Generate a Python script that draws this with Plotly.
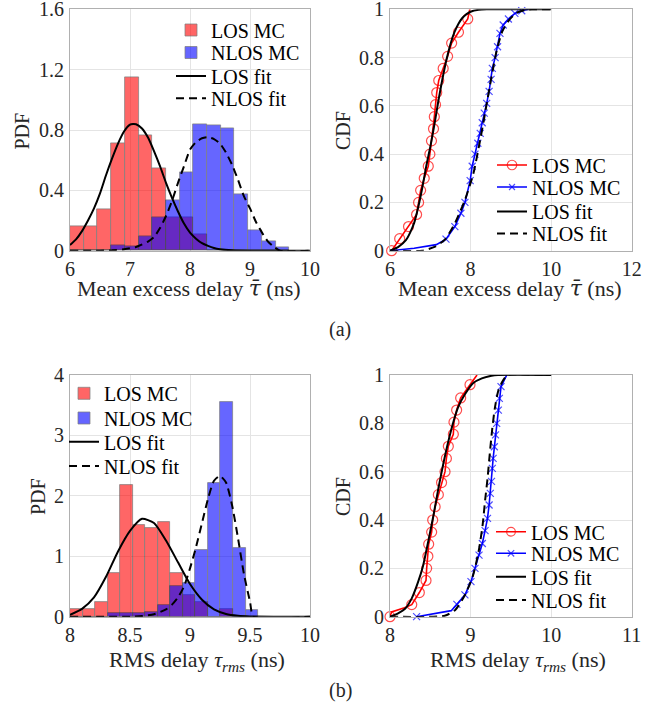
import numpy as np
import plotly.graph_objects as go

# ---------------- (a) Mean excess delay ----------------
a_bin_edges = [6.0, 6.228, 6.457, 6.685, 6.913, 7.142, 7.37, 7.598, 7.826, 8.055,
               8.283, 8.511, 8.74, 8.968, 9.196, 9.425, 9.653]
a_los_pdf = [0.163, 0.163, 0.274, 0.711, 1.149, 0.767, 0.547, 0.221, 0.221, 0.11,
             0, 0, 0, 0, 0, 0]
a_nlos_pdf = [0, 0, 0, 0.035, 0.027, 0.097, 0.221, 0.336, 0.517, 0.838,
              0.831, 0.811, 0.376, 0.137, 0.06, 0.02]

a_los_fit_x = [6.0, 6.1, 6.2, 6.3, 6.4, 6.5, 6.6, 6.7, 6.8, 6.9, 7.0, 7.05, 7.1, 7.2, 7.3,
               7.4, 7.5, 7.6, 7.7, 7.8, 7.9, 8.0, 8.1, 8.2, 8.3, 8.4, 8.5, 8.7, 9.0, 10.0]
a_los_fit_pdf = [0.038, 0.075, 0.13, 0.2, 0.28, 0.38, 0.5, 0.61, 0.71, 0.79, 0.835, 0.84, 0.838,
                 0.81, 0.75, 0.66, 0.56, 0.45, 0.35, 0.26, 0.18, 0.12, 0.08, 0.05, 0.032,
                 0.018, 0.01, 0.003, 0.0, 0.0]
a_nlos_fit_x = [6.0, 6.5, 6.7, 6.9, 7.1, 7.3, 7.4, 7.5, 7.6, 7.7, 7.8, 7.9, 8.0, 8.1, 8.2,
                8.3, 8.4, 8.5, 8.6, 8.7, 8.8, 8.9, 9.0, 9.1, 9.2, 9.3, 9.4, 9.5, 10.0]
a_nlos_fit_pdf = [0.0, 0.0, 0.003, 0.01, 0.025, 0.06, 0.09, 0.15, 0.23, 0.33, 0.45, 0.56, 0.67,
                  0.72, 0.745, 0.752, 0.74, 0.71, 0.65, 0.57, 0.47, 0.36, 0.28, 0.19, 0.12,
                  0.06, 0.025, 0.0, 0.0]

a_los_mc_x = [6.04, 6.24, 6.46, 6.66, 6.71, 6.76, 6.85, 6.95, 6.99, 7.03, 7.08, 7.1, 7.13,
              7.16, 7.21, 7.32, 7.43, 7.53, 7.7, 7.93, 7.98]
a_los_mc_cdf = [0.0, 0.05, 0.1, 0.15, 0.2, 0.25, 0.3, 0.35, 0.4, 0.455, 0.505, 0.555, 0.605,
                0.655, 0.705, 0.755, 0.805, 0.86, 0.905, 0.96, 1.0]
a_nlos_mc_x = [6.0, 6.6, 7.15, 7.39, 7.61, 7.76, 7.86, 7.99, 8.04, 8.11, 8.18, 8.24, 8.29,
               8.34, 8.40, 8.46, 8.51, 8.54, 8.61, 8.67, 8.73, 8.81, 8.94, 9.10, 9.27, 9.44]
a_nlos_mc_cdf = [0.0, 0.01, 0.025, 0.048, 0.10, 0.155, 0.20, 0.29, 0.35, 0.40, 0.445, 0.486,
                 0.53, 0.57, 0.61, 0.66, 0.71, 0.755, 0.80, 0.845, 0.90, 0.935, 0.96, 0.983,
                 0.994, 1.0]
a_los_fit_cdf_x = [6.0, 6.2, 6.4, 6.5, 6.6, 6.7, 6.8, 6.9, 7.0, 7.1, 7.2, 7.3, 7.4, 7.5, 7.6,
                   7.7, 7.8, 7.9, 8.0, 8.2, 8.4, 10.0]
a_los_fit_cdf = [0.0, 0.015, 0.045, 0.075, 0.115, 0.18, 0.26, 0.35, 0.43, 0.52, 0.62, 0.71,
                 0.79, 0.855, 0.905, 0.94, 0.965, 0.98, 0.99, 0.998, 1.0, 1.0]
a_nlos_fit_cdf_x = [6.0, 6.8, 7.12, 7.37, 7.61, 7.86, 8.07, 8.24, 8.36, 8.52, 8.65, 8.79,
                    8.96, 9.15, 9.35, 9.52, 10.0]
a_nlos_fit_cdf = [0.0, 0.0, 0.017, 0.047, 0.113, 0.21, 0.32, 0.46, 0.57, 0.72, 0.83, 0.91,
                  0.956, 0.986, 0.997, 1.0, 1.0]

# ---------------- (b) RMS delay ----------------
b_bin_edges = [8.0, 8.105, 8.209, 8.314, 8.418, 8.523, 8.627, 8.732, 8.836, 8.941, 9.045,
               9.15, 9.254, 9.359, 9.463, 9.568]
b_los_pdf = [0.121, 0.121, 0.243, 0.717, 2.18, 1.52, 1.46, 1.57, 0.717, 0.36, 0.25, 0, 0.12, 0, 0]
b_nlos_pdf = [0, 0, 0, 0.055, 0.055, 0.06, 0.08, 0.19, 0.5, 0.56, 1.10, 2.21, 3.56, 1.13, 0.11]

b_los_fit_x = [8.0, 8.1, 8.2, 8.3, 8.4, 8.5, 8.6, 8.7, 8.8, 8.9, 9.0, 9.1, 9.2, 9.3, 9.4,
               9.5, 9.7, 10.0]
b_los_fit_pdf = [0.03, 0.13, 0.32, 0.66, 1.08, 1.42, 1.62, 1.55, 1.26, 0.9, 0.54, 0.28, 0.12,
                 0.045, 0.015, 0.004, 0.0, 0.0]
b_nlos_fit_x = [8.0, 8.5, 8.6, 8.7, 8.8, 8.85, 8.9, 8.95, 9.0, 9.05, 9.1, 9.15, 9.2, 9.25,
                9.3, 9.35, 9.4, 9.45, 9.5, 9.53, 10.0]
b_nlos_fit_pdf = [0.0, 0.0, 0.01, 0.04, 0.12, 0.2, 0.32, 0.5, 0.8, 1.15, 1.55, 1.95, 2.25,
                  2.33, 2.22, 1.85, 1.3, 0.7, 0.25, 0.0, 0.0]

b_los_mc_x = [8.0, 8.02, 8.18, 8.27, 8.364, 8.447, 8.455, 8.47, 8.48, 8.517, 8.53, 8.56, 8.6,
              8.64, 8.683, 8.70, 8.724, 8.786, 8.794, 8.827, 8.877, 8.993, 9.08]
b_los_mc_cdf = [0.0, 0.02, 0.037, 0.05, 0.1, 0.15, 0.2, 0.25, 0.3, 0.35, 0.4, 0.455, 0.505,
                0.555, 0.6, 0.655, 0.705, 0.755, 0.805, 0.855, 0.905, 0.96, 1.0]
b_nlos_mc_x = [8.33, 8.76, 8.83, 8.93, 9.005, 9.055, 9.105, 9.146, 9.18, 9.21, 9.23, 9.245,
               9.26, 9.27, 9.28, 9.295, 9.31, 9.324, 9.345, 9.357, 9.378, 9.45]
b_nlos_mc_cdf = [0.0, 0.025, 0.051, 0.09, 0.145, 0.2, 0.255, 0.303, 0.356, 0.407, 0.462,
                 0.51, 0.56, 0.614, 0.655, 0.703, 0.752, 0.8, 0.855, 0.903, 0.952, 1.0]
b_los_fit_cdf_x = [8.0, 8.1, 8.19, 8.27, 8.35, 8.41, 8.48, 8.54, 8.6, 8.66, 8.72, 8.79, 8.85,
                   8.93, 9.03, 9.14, 9.26, 9.34, 10.0]
b_los_fit_cdf = [0.0, 0.014, 0.034, 0.076, 0.145, 0.21, 0.32, 0.42, 0.53, 0.63, 0.72, 0.81,
                 0.87, 0.92, 0.966, 0.986, 0.997, 1.0, 1.0]
b_nlos_fit_cdf_x = [8.0, 8.68, 8.81, 8.93, 9.03, 9.1, 9.15, 9.18, 9.21, 9.24, 9.27, 9.3, 9.34,
                    9.39, 9.43, 9.46, 10.0]
b_nlos_fit_cdf = [0.0, 0.004, 0.028, 0.09, 0.17, 0.27, 0.38, 0.48, 0.57, 0.68, 0.78, 0.86,
                  0.93, 0.97, 0.99, 1.0, 1.0]

# ---------------- figure ----------------
W, H = 656, 709
FONT = "Liberation Serif"
TXT = "#262626"
DASH = "8px,5px"


def px_x(p):
    return p / W


def px_y(p):
    return 1 - p / H


fig = go.Figure()
legends = {}
leg_count = [1]
leg_style = dict(font=dict(family=FONT, size=20, color="black"), bgcolor="rgba(0,0,0,0)",
                 borderwidth=0, xanchor="left", yanchor="middle", itemwidth=30, tracegroupgap=0)


def new_legend(text_x, row_y):
    leg_count[0] += 1
    key = "legend%d" % leg_count[0]
    legends[key] = dict(leg_style, x=px_x(text_x - 41), y=px_y(row_y))
    return key


def add_hist(edges, los, nlos, xa, ya, tx, rows):
    e = np.array(edges)
    for vals, col, name, ry in [(los, "rgb(255,0,0)", "LOS MC", rows[0]),
                                (nlos, "rgb(0,0,255)", "NLOS MC", rows[1])]:
        fig.add_trace(go.Bar(x=e[:-1], y=vals, width=np.diff(e), offset=0, name=name,
                             marker=dict(color=col, line=dict(color="rgba(40,40,40,0.9)", width=0.8)),
                             opacity=0.6, xaxis=xa, yaxis=ya, legend=new_legend(tx, ry)))


def add_fit(x1, y1, x2, y2, xa, ya, tx, rows):
    fig.add_trace(go.Scatter(x=x1, y=y1, mode="lines", name="LOS fit",
                             line=dict(color="black", width=2, shape="spline", smoothing=0.6),
                             xaxis=xa, yaxis=ya, legend=new_legend(tx, rows[2])))
    fig.add_trace(go.Scatter(x=x2, y=y2, mode="lines", name="NLOS fit",
                             line=dict(color="black", width=2, dash=DASH, shape="spline", smoothing=0.6),
                             xaxis=xa, yaxis=ya, legend=new_legend(tx, rows[3])))


def add_mc(lx, ly, lmask, nx, ny, nmask, xa, ya, tx, rows):
    fig.add_trace(go.Scatter(x=lx, y=ly, mode="lines+markers", name="LOS MC",
                             line=dict(color="rgb(255,0,0)", width=1.6),
                             marker=dict(symbol="circle-open", color="rgb(255,0,0)",
                                         size=[10 if m else 0 for m in lmask], line=dict(width=1.2)),
                             cliponaxis=False, xaxis=xa, yaxis=ya, legend=new_legend(tx, rows[0])))
    fig.add_trace(go.Scatter(x=nx, y=ny, mode="lines+markers", name="NLOS MC",
                             line=dict(color="rgb(0,0,255)", width=1.6),
                             marker=dict(symbol="x-thin-open", color="rgb(0,0,255)",
                                         size=[7 if m else 0 for m in nmask],
                                         line=dict(width=1.2, color="rgb(0,0,255)")),
                             cliponaxis=False, xaxis=xa, yaxis=ya, legend=new_legend(tx, rows[1])))


# legend text start x and row centres (pixels)
TL = (212, [30, 52.5, 76, 98.3])
TR = (533, [165, 187, 211.5, 233.5])
BL = (105, [393.3, 418, 441.7, 466])
BR = (532, [531.7, 553.3, 576.7, 600])

# (a) PDF
add_hist(a_bin_edges, a_los_pdf, a_nlos_pdf, "x", "y", TL[0], TL[1])
add_fit(a_los_fit_x, a_los_fit_pdf, a_nlos_fit_x, a_nlos_fit_pdf, "x", "y", TL[0], TL[1])
# (a) CDF
a_lmask = [1] * (len(a_los_mc_x) - 1) + [0]
a_nmask = [0, 0, 0] + [1] * (len(a_nlos_mc_x) - 4) + [0]
add_mc(a_los_mc_x, a_los_mc_cdf, a_lmask, a_nlos_mc_x, a_nlos_mc_cdf, a_nmask, "x2", "y2", TR[0], TR[1])
add_fit(a_los_fit_cdf_x, a_los_fit_cdf, a_nlos_fit_cdf_x, a_nlos_fit_cdf, "x2", "y2", TR[0], TR[1])
# (b) PDF
add_hist(b_bin_edges, b_los_pdf, b_nlos_pdf, "x3", "y3", BL[0], BL[1])
add_fit(b_los_fit_x, b_los_fit_pdf, b_nlos_fit_x, b_nlos_fit_pdf, "x3", "y3", BL[0], BL[1])
# (b) CDF
b_lmask = [1, 0, 0] + [1] * (len(b_los_mc_x) - 4) + [0]
b_nmask = [1, 0] + [1] * (len(b_nlos_mc_x) - 3) + [0]
add_mc(b_los_mc_x, b_los_mc_cdf, b_lmask, b_nlos_mc_x, b_nlos_mc_cdf, b_nmask, "x4", "y4", BR[0], BR[1])
add_fit(b_los_fit_cdf_x, b_los_fit_cdf, b_nlos_fit_cdf_x, b_nlos_fit_cdf, "x4", "y4", BR[0], BR[1])

tickfont = dict(family=FONT, size=20, color=TXT)
ax = dict(showgrid=True, gridcolor="#e4e4e4", gridwidth=1, showline=True, linecolor="#b0b0b0",
          linewidth=1, mirror=True, zeroline=False, ticks="", tickfont=tickfont, fixedrange=True,
          automargin=False, ticklabeloverflow="allow")
xax = dict(ax, ticklabelstandoff=0)
yax = dict(ax, ticklabelstandoff=1)

L_left = (px_x(70), px_x(310))
L_right = (px_x(390), px_x(631.7))
D_top = (px_y(250.7), px_y(9.3))
D_bot = (px_y(616.7), px_y(375))

fig.update_layout(
    template="none",
    width=W, height=H, autosize=False,
    margin=dict(l=0, r=0, t=0, b=0, pad=0, autoexpand=False),
    paper_bgcolor="white", plot_bgcolor="white",
    barmode="overlay", bargap=0, showlegend=True,
    font=dict(family=FONT, size=20, color=TXT),
    xaxis=dict(xax, domain=L_left, range=[6, 10], dtick=1, anchor="y"),
    yaxis=dict(yax, domain=D_top, range=[0, 1.6], tickvals=[0, 0.4, 0.8, 1.2, 1.6], anchor="x"),
    xaxis2=dict(xax, domain=L_right, range=[6, 12], dtick=2, anchor="y2"),
    yaxis2=dict(yax, domain=D_top, range=[0, 1], dtick=0.2, anchor="x2"),
    xaxis3=dict(xax, domain=L_left, range=[8, 10], dtick=0.5, anchor="y3"),
    yaxis3=dict(yax, domain=D_bot, range=[0, 4], dtick=1, anchor="x3"),
    xaxis4=dict(xax, domain=L_right, range=[8, 11], dtick=1, anchor="y4"),
    yaxis4=dict(yax, domain=D_bot, range=[0, 1], dtick=0.2, anchor="x4"),
    **legends,
)

ann = []


def add_text(text, x, y, angle=0, size=20):
    ann.append(dict(text=text, x=px_x(x), y=px_y(y), xref="paper", yref="paper",
                    showarrow=False, textangle=angle, xanchor="center", yanchor="middle",
                    font=dict(family=FONT, size=size, color=TXT)))


TAUBAR = "<span style='font-family:\"DejaVu Serif\"'><i>τ̄</i></span>"
add_text("PDF", 21.5, 131, -90)
add_text("CDF", 343, 131, -90)
add_text("PDF", 38, 497, -90)
add_text("CDF", 343, 497, -90)
add_text("Mean excess delay " + TAUBAR + " (ns)", 189, 288, size=22)
add_text("Mean excess delay " + TAUBAR + " (ns)", 510, 288, size=22)
add_text("RMS delay <i>τ</i><sub><i>rms</i></sub> (ns)", 197, 661, size=22)
add_text("RMS delay <i>τ</i><sub><i>rms</i></sub> (ns)", 518, 661, size=22)
add_text("(a)", 340, 330)
add_text("(b)", 340, 690)
fig.update_layout(annotations=ann)

fig.write_html("out.html", config={"displayModeBar": False},
               post_script="document.body.style.margin='0';document.body.style.overflow='hidden';")
